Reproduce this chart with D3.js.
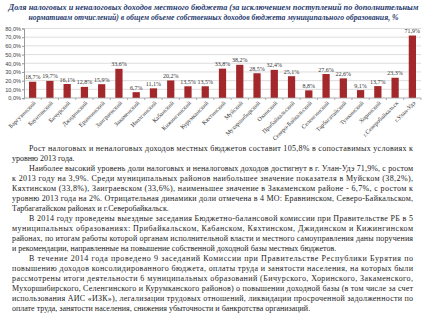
<!DOCTYPE html>
<html>
<head>
<meta charset="utf-8">
<script src="https://cdn.jsdelivr.net/npm/d3@7"></script>
<style>
  body { margin: 0; background: #fff; }
  svg { display: block; }
</style>
</head>
<body>
<div id="chart"></div>
<script>
// данные с графика
var districts = ["Баргузинский", "Баунтовский", "Бичурский", "Джидинский", "Еравнинский",
    "Заиграевский", "Закаменский", "Иволгинский", "Кабанский", "Кижингинский", "Курумканский",
    "Кяхтинский", "Муйский", "Мухоршибирский", "Окинский", "Прибайкальский", "Северо-Байкальский",
    "Селенгинский", "Тарбагатайский", "Тункинский", "Хоринский", "г.Северобайкальск", "г.Улан-Удэ"];
var shares = [18.7, 19.7, 16.1, 12.8, 15.9, 33.6, 6.7, 11.1, 20.2, 13.5, 13.5,
    33.8, 38.2, 28.5, 32.4, 25.1, 8.8, 27.6, 22.6, 9.1, 13.7, 23.3, 71.9];
var yTicks = [0, 10, 20, 30, 40, 50, 60, 70, 80];

var titleLines = [
    "Доля налоговых и неналоговых доходов местного бюджета (за исключением поступлений по дополнительным",
    "нормативам отчислений) в общем объеме собственных доходов бюджета муниципального образования, %"
];

// строки текста: [текст, абзацный отступ, выравнивание по ширине]
var bodyLines = [
    ["Рост налоговых и неналоговых доходов местных бюджетов составит 105,8% в сопоставимых условиях к", true, true],
    ["уровню 2013 года.", false, false],
    ["Наиболее высокий уровень доли налоговых и неналоговых доходов достигнут в г. Улан-Удэ 71,9%, с ростом", true, true],
    ["к 2013 году на 3,9%. Среди муниципальных районов наибольшее значение показателя в Муйском (38,2%),", false, true],
    ["Кяхтинском (33,8%), Заиграевском (33,6%), наименьшее значение в Закаменском районе - 6,7%, с ростом к", false, true],
    ["уровню 2013 года на 2%. Отрицательная динамики доли отмечена в 4 МО: Еравнинском, Северо-Байкальском,", false, true],
    ["Тарбагатайском районах и г.Северобайкальск.", false, false],
    ["В 2014 году проведены выездные заседания Бюджетно-балансовой комиссии при Правительстве РБ в 5", true, true],
    ["муниципальных образованиях: Прибайкальском, Кабанском, Кяхтинском, Джидинском и Кижингинском", false, true],
    ["районах, по итогам работы которой органам исполнительной власти и местного самоуправления даны поручения", false, true],
    ["и рекомендации, направленные на повышение собственной доходной базы местных бюджетов.", false, false],
    ["В течение 2014 года проведено 9 заседаний Комиссии при Правительстве Республики Бурятия по", true, true],
    ["повышению доходов консолидированного бюджета, оплаты труда и занятости населения, на которых были", false, true],
    ["рассмотрены итоги деятельности 6 муниципальных образований (Бичурского, Хоринского, Закаменского,", false, true],
    ["Мухоршибирского, Селенгинского и Курумканского районов) о повышении доходной базы (в том числе за счет", false, true],
    ["использования АИС «ИЗК»), легализации трудовых отношений, ликвидации просроченной задолженности по", false, true],
    ["оплате труда, занятости населения, снижения убыточности и банкротства организаций.", false, false]
];

var width = 427, height = 320;
var plot = { left: 24, right: 421, top: 28.5, bottom: 98 };

var svg = d3.select("#chart").append("svg")
    .attr("width", width)
    .attr("height", height);

// Заголовок
svg.selectAll(".title")
    .data(titleLines)
    .enter().append("text")
    .attr("class", "title")
    .attr("x", width / 2)
    .attr("y", function (d, i) { return 9.5 + i * 10.5; })
    .attr("text-anchor", "middle")
    .attr("textLength", function (d, i) { return i === 0 ? 410 : 370; })
    .attr("lengthAdjust", "spacingAndGlyphs")
    .style("font-family", "'Liberation Serif', 'DejaVu Serif', serif")
    .style("font-size", "8.3px")
    .style("font-weight", "bold")
    .style("font-style", "italic")
    .style("fill", "#1f3a6e")
    .text(function (d) { return d; });

// Шкалы
var x = d3.scaleBand().domain(districts).range([plot.left, plot.right]).paddingInner(0.58).paddingOuter(0.29);
var y = d3.scaleLinear().domain([0, 80]).range([plot.bottom, plot.top]);

// Сетка
svg.append("g")
    .selectAll("line")
    .data(yTicks.slice(1))
    .enter().append("line")
    .attr("x1", plot.left)
    .attr("x2", plot.right)
    .attr("y1", function (d) { return y(d); })
    .attr("y2", function (d) { return y(d); })
    .attr("stroke", "#d4d4d4")
    .attr("stroke-width", 0.8);

// Ось Y
var yAxis = d3.axisLeft(y)
    .tickValues(yTicks)
    .tickSize(2)
    .tickFormat(function (d) { return d3.format(".1f")(d).replace(".", ",") + "%"; });

var gy = svg.append("g")
    .attr("transform", "translate(" + plot.left + ",0)")
    .call(yAxis);
gy.select(".domain").attr("stroke", "#999");
gy.selectAll(".tick line").attr("stroke", "#999");
gy.selectAll(".tick text")
    .attr("x", -3)
    .style("font-family", "'Liberation Sans', Arial, sans-serif")
    .style("font-size", "5.6px")
    .style("fill", "#444");

// Столбцы
svg.append("g")
    .selectAll("rect")
    .data(shares)
    .enter().append("rect")
    .attr("x", function (d, i) { return x(districts[i]); })
    .attr("y", function (d) { return y(d); })
    .attr("width", x.bandwidth())
    .attr("height", function (d) { return y(0) - y(d); })
    .attr("fill", "#a3282c");

// Подписи значений
svg.append("g")
    .selectAll("text")
    .data(shares)
    .enter().append("text")
    .attr("x", function (d, i) { return x(districts[i]) + x.bandwidth() / 2; })
    .attr("y", function (d) { return y(d) - 2.5; })
    .attr("text-anchor", "middle")
    .style("font-family", "'Liberation Serif', 'DejaVu Serif', serif")
    .style("font-size", "6px")
    .style("fill", "#333")
    .text(function (d) { return d3.format(".1f")(d).replace(".", ",") + "%"; });

// Ось X
var step = x.step();
var gx = svg.append("g")
    .attr("transform", "translate(0," + plot.bottom + ")");
gx.append("line")
    .attr("x1", plot.left)
    .attr("x2", plot.right)
    .attr("stroke", "#999")
    .attr("stroke-width", 0.8);
gx.selectAll(".xtick")
    .data(d3.range(districts.length + 1))
    .enter().append("line")
    .attr("class", "xtick")
    .attr("x1", function (i) { return plot.left + i * step; })
    .attr("x2", function (i) { return plot.left + i * step; })
    .attr("y1", 0)
    .attr("y2", 2)
    .attr("stroke", "#999")
    .attr("stroke-width", 0.8);
gx.selectAll(".xlabel")
    .data(districts)
    .enter().append("text")
    .attr("class", "xlabel")
    .attr("transform", function (d) {
        return "translate(" + (x(d) + x.bandwidth() / 2 + 2) + ",4) rotate(-45)";
    })
    .attr("text-anchor", "end")
    .attr("dy", "0.35em")
    .style("font-family", "'Liberation Serif', 'DejaVu Serif', serif")
    .style("font-size", "6px")
    .style("fill", "#333")
    .text(function (d) { return d; });

// Текст под диаграммой
var textLeft = 12, textRight = 413, indent = 17;
svg.append("g")
    .selectAll("text")
    .data(bodyLines)
    .enter().append("text")
    .attr("x", function (d) { return d[1] ? textLeft + indent : textLeft; })
    .attr("y", function (d, i) { return 151 + i * 10; })
    .attr("textLength", function (d) {
        return d[2] ? (textRight - (d[1] ? textLeft + indent : textLeft)) : null;
    })
    .attr("lengthAdjust", "spacing")
    .style("font-family", "'Liberation Serif', 'DejaVu Serif', serif")
    .style("font-size", "8px")
    .style("fill", "#222")
    .text(function (d) { return d[0]; });
</script>
</body>
</html>
